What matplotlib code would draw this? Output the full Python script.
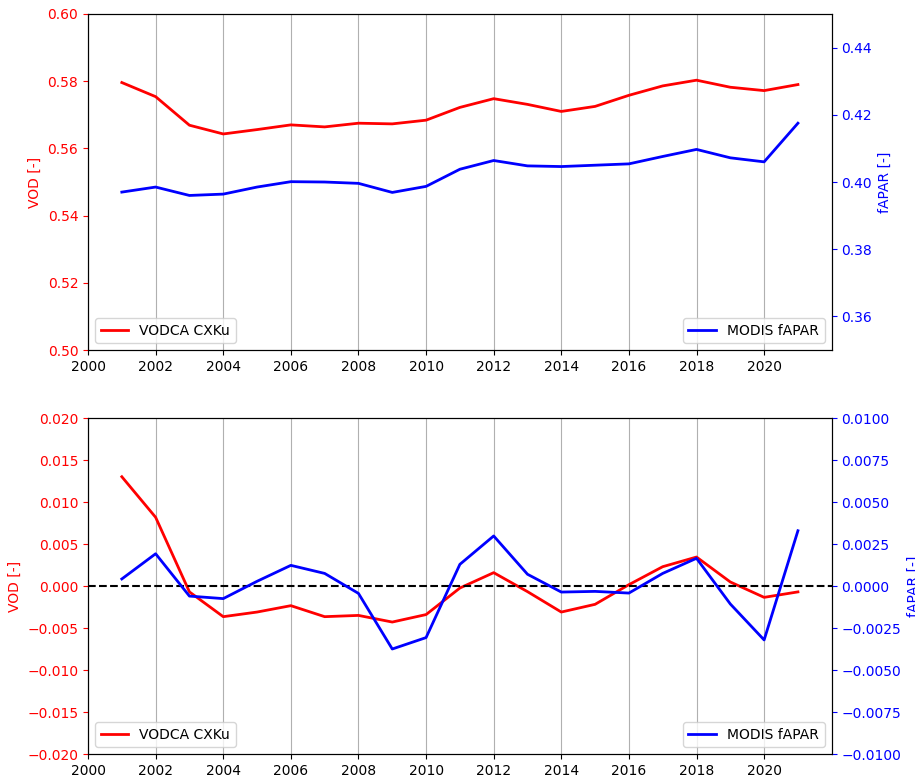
import matplotlib
matplotlib.use("Agg")
import matplotlib.pyplot as plt
import numpy as np

years = np.arange(2001, 2022)

# annual means
vod_mean = [0.5796, 0.5754, 0.5669, 0.5643, 0.5656, 0.5670, 0.5664, 0.5675, 0.5673, 0.5684,
            0.5722, 0.5748, 0.5731, 0.5710, 0.5725, 0.5758, 0.5786, 0.5803, 0.5782, 0.5772, 0.5790]
fapar_mean = [0.3970, 0.3985, 0.3960, 0.3964, 0.3985, 0.4001, 0.4000, 0.3996, 0.3969, 0.3987,
              0.4038, 0.4064, 0.4048, 0.4046, 0.4050, 0.4054, 0.4076, 0.4097, 0.4072, 0.4060, 0.4175]

# anomalies
vod_anom = [0.01301, 0.00818, -0.0007, -0.00365, -0.0031, -0.00234, -0.00365, -0.0035, -0.00429, -0.0034,
            -0.00024, 0.00159, -0.00067, -0.0031, -0.00218, 0.00016, 0.0023, 0.00345, 0.00048, -0.00135, -0.0007]
fapar_anom = [0.00042, 0.00192, -0.0006, -0.00075, 0.00028, 0.00123, 0.00075, -0.00044, -0.00375, -0.00307,
              0.00129, 0.00298, 0.0007, -0.00036, -0.00032, -0.00042, 0.00075, 0.00165, -0.00107, -0.00321, 0.00329]

fig = plt.figure(figsize=(9.15, 7.77), dpi=100)
ax1 = fig.add_axes([0.0962, 0.5495, 0.8128, 0.4325])
ax2 = fig.add_axes([0.0962, 0.0296, 0.8128, 0.4324])


def panel(ax, vod, fapar, vlim, flim, fticks=None, zero=False):
    ax.plot(years, vod, color='red', lw=2, label='VODCA CXKu')
    ax.set_ylim(*vlim)
    ax.set_xlim(2000, 2022)
    ax.set_xticks(np.arange(2000, 2021, 2))
    ax.grid(axis='x')
    ax.set_ylabel('VOD [-]', color='red')
    ax.tick_params(axis='y', colors='red')
    if zero:
        ax.axhline(0, color='black', ls='--', lw=1.5)
    ax.legend(loc='lower left')

    axr = ax.twinx()
    axr.plot(years, fapar, color='blue', lw=2, label='MODIS fAPAR')
    axr.set_ylim(*flim)
    if fticks is not None:
        axr.set_yticks(fticks)
    axr.set_ylabel('fAPAR [-]', color='blue')
    axr.tick_params(axis='y', colors='blue')
    axr.legend(loc='lower right')


panel(ax1, vod_mean, fapar_mean, (0.50, 0.60), (0.35, 0.45),
      fticks=[0.36, 0.38, 0.40, 0.42, 0.44])
panel(ax2, vod_anom, fapar_anom, (-0.02, 0.02), (-0.01, 0.01), zero=True)

plt.savefig('out.png', dpi=100)
